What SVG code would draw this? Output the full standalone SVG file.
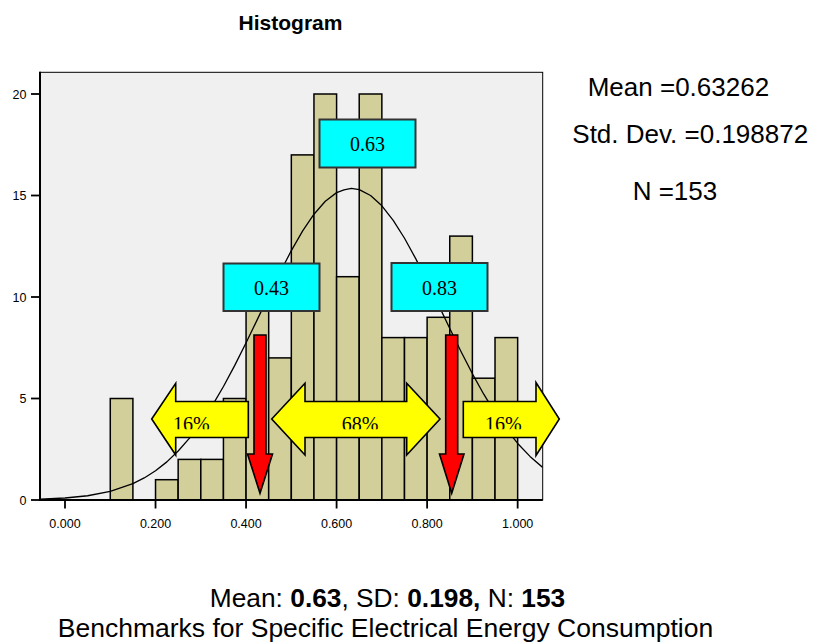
<svg xmlns="http://www.w3.org/2000/svg" width="817" height="642" viewBox="0 0 817 642">
  <style>
    .axis-lbl { font-family: "Liberation Sans", Arial, sans-serif; font-size: 12.5px; fill: #000; }
    .stat { font-family: "Liberation Sans", Arial, sans-serif; font-size: 26px; fill: #000; }
    .bar { fill: #d3cf9b; stroke: #000; stroke-width: 1.5; }
    .tick { stroke: #000; stroke-width: 1.8; }
    .box rect { fill: #00ffff; stroke: #333; stroke-width: 2; }
    .box text { font-family: "Liberation Serif", "Times New Roman", serif; font-size: 20px; fill: #000; text-anchor: middle; }
    .band polygon { fill: #ffff00; stroke: #000; stroke-width: 1.6; stroke-linejoin: miter; }
    .band text { font-family: "Liberation Serif", "Times New Roman", serif; font-size: 20px; fill: #000; text-anchor: middle; }
    .marker polygon { fill: #ff0000; stroke: #000; stroke-width: 1.6; }
  </style>
  <defs>
    <clipPath id="plotClip"><rect x="40" y="72" width="502.7" height="428"/></clipPath>
    <!-- percentage labels only show their upper part -->
    <clipPath id="labelClip"><rect x="0" y="380" width="817" height="49.3"/></clipPath>
  </defs>

  <rect width="817" height="642" fill="#fff"/>

  <!-- title -->
  <text x="290.5" y="29.5" text-anchor="middle" font-family="Liberation Sans, Arial, sans-serif" font-size="21" font-weight="bold">Histogram</text>

  <!-- plot area -->
  <rect x="40" y="72.3" width="502.7" height="427.7" fill="#f0f0f0" stroke="#000" stroke-width="1"/>

  <!-- frequency bars -->
  <g id="bars">
    <rect class="bar" x="110.27" y="398.5" width="22.63" height="101.5"/>
    <rect class="bar" x="155.53" y="479.7" width="22.63" height="20.3"/>
    <rect class="bar" x="178.16" y="459.4" width="22.63" height="40.6"/>
    <rect class="bar" x="200.8" y="459.4" width="22.63" height="40.6"/>
    <rect class="bar" x="223.43" y="398.5" width="22.63" height="101.5"/>
    <rect class="bar" x="246.06" y="297" width="22.63" height="203"/>
    <rect class="bar" x="268.69" y="357.9" width="22.63" height="142.1"/>
    <rect class="bar" x="291.33" y="154.9" width="22.63" height="345.1"/>
    <rect class="bar" x="313.96" y="94" width="22.63" height="406"/>
    <rect class="bar" x="336.59" y="276.7" width="22.63" height="223.3"/>
    <rect class="bar" x="359.22" y="94" width="22.63" height="406"/>
    <rect class="bar" x="381.86" y="337.6" width="22.63" height="162.4"/>
    <rect class="bar" x="404.49" y="337.6" width="22.63" height="162.4"/>
    <rect class="bar" x="427.12" y="317.3" width="22.63" height="182.7"/>
    <rect class="bar" x="449.75" y="236.1" width="22.63" height="263.9"/>
    <rect class="bar" x="472.39" y="378.2" width="22.63" height="121.8"/>
    <rect class="bar" x="495.02" y="337.6" width="22.63" height="162.4"/>
  </g>

  <!-- fitted normal curve -->
  <g id="normal-curve" clip-path="url(#plotClip)">
    <polyline fill="none" stroke="#000" stroke-width="1.3" stroke-linejoin="round"
      points="40,499.21 65,498.02 87.64,495.74 110.27,491.37 132.9,483.61 144.22,477.94 155.54,470.76 166.85,461.88 178.18,451.05 189.49,438.15 200.81,423.07 212.13,405.83 223.45,386.52 234.76,365.38 246.08,342.82 257.38,319.36 268.72,295.65 280.03,272.46 291.35,250.57 302.67,230.9 313.99,214.23 325.31,201.28 336.62,192.64 344,189.9 351.39,188.48 359.26,189.66 370.58,195.48 381.89,205.85 393.21,220.34 404.53,238.27 415.84,258.9 427.16,281.39 438.48,304.89 449.8,328.59 461.11,351.77 472.43,373.82 483.75,394.2 495.07,412.81 506.4,429.2 517.7,443.44 530,456.4 542.7,467.41"/>
  </g>

  <!-- axes -->
  <g id="axes">
    <line x1="40" y1="71.8" x2="40" y2="501" stroke="#000" stroke-width="2"/>
    <line x1="39" y1="500" x2="542.7" y2="500" stroke="#000" stroke-width="2"/>
    <line class="tick" x1="31" y1="500" x2="40" y2="500"/>
    <line class="tick" x1="31" y1="398.5" x2="40" y2="398.5"/>
    <line class="tick" x1="31" y1="297" x2="40" y2="297"/>
    <line class="tick" x1="31" y1="195.5" x2="40" y2="195.5"/>
    <line class="tick" x1="31" y1="94" x2="40" y2="94"/>
    <line class="tick" x1="65" y1="500" x2="65" y2="508.5"/>
    <line class="tick" x1="155.53" y1="500" x2="155.53" y2="508.5"/>
    <line class="tick" x1="246.06" y1="500" x2="246.06" y2="508.5"/>
    <line class="tick" x1="336.59" y1="500" x2="336.59" y2="508.5"/>
    <line class="tick" x1="427.12" y1="500" x2="427.12" y2="508.5"/>
    <line class="tick" x1="517.65" y1="500" x2="517.65" y2="508.5"/>
    <g class="axis-lbl" text-anchor="end">
      <text x="26.5" y="504.5">0</text>
      <text x="26.5" y="403">5</text>
      <text x="26.5" y="301.5">10</text>
      <text x="26.5" y="200">15</text>
      <text x="26.5" y="98.5">20</text>
    </g>
    <g class="axis-lbl" text-anchor="middle">
      <text x="65" y="528">0.000</text>
      <text x="155.53" y="528">0.200</text>
      <text x="246.06" y="528">0.400</text>
      <text x="336.59" y="528">0.600</text>
      <text x="427.12" y="528">0.800</text>
      <text x="517.65" y="528">1.000</text>
    </g>
  </g>

  <!-- share bands -->
  <g id="band-low" class="band">
    <polygon points="151.7,419 175.7,383.3 175.7,401.5 248.3,401.5 248.3,437.5 175.7,437.5 175.7,455"/>
    <text x="191.3" y="430.5" clip-path="url(#labelClip)">16%</text>
  </g>
  <g id="band-mid" class="band">
    <polygon points="271.7,419 305,383.3 305,401.5 406.7,401.5 406.7,383.3 440,419 406.7,455 406.7,437.5 305,437.5 305,455"/>
    <text x="360" y="430.5" clip-path="url(#labelClip)">68%</text>
  </g>
  <g id="band-high" class="band">
    <polygon points="463.3,401.5 536,401.5 536,382.5 559.3,419 536,455.5 536,437.5 463.3,437.5"/>
    <text x="503.3" y="430.5" clip-path="url(#labelClip)">16%</text>
  </g>

  <!-- one-SD markers -->
  <g id="marker-low" class="marker">
    <polygon points="254,335 266,335 266,454 272.5,454 260,493.3 247.5,454 254,454"/>
  </g>
  <g id="marker-high" class="marker">
    <polygon points="445.7,335 457.7,335 457.7,454 464,454 451.7,493.3 439.5,454 445.7,454"/>
  </g>

  <!-- value boxes -->
  <g id="box-mean" class="box">
    <rect x="319.5" y="119.5" width="96" height="48"/>
    <text x="367.5" y="151">0.63</text>
  </g>
  <g id="box-minus-sd" class="box">
    <rect x="223.5" y="263.5" width="96" height="47.5"/>
    <text x="271.5" y="295">0.43</text>
  </g>
  <g id="box-plus-sd" class="box">
    <rect x="391.5" y="263" width="96" height="48"/>
    <text x="439.5" y="295">0.83</text>
  </g>

  <!-- summary statistics -->
  <g id="stats">
    <text class="stat" x="587.7" y="96">Mean =0.63262</text>
    <text class="stat" x="572.3" y="143.3">Std. Dev. =0.198872</text>
    <text class="stat" x="632.7" y="200">N =153</text>
  </g>

  <!-- caption -->
  <g id="caption" font-family="Liberation Sans, Arial, sans-serif" text-anchor="middle">
    <text x="387.5" y="607.3" font-size="26.3">Mean: <tspan font-weight="bold">0.63</tspan>, SD: <tspan font-weight="bold">0.198,</tspan> N: <tspan font-weight="bold">153</tspan></text>
    <text x="385.5" y="636.5" font-size="26.5">Benchmarks for Specific Electrical Energy Consumption</text>
  </g>
</svg>
